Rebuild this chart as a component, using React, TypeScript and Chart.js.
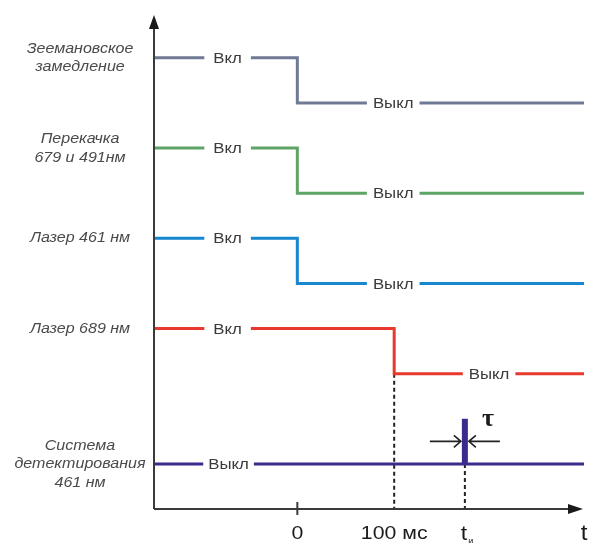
import React, { useEffect, useRef } from "react";
import { Chart, registerables } from "chart.js";

Chart.register(...registerables);

// ---- data ----
const channelLabels: string[][] = [
  ["Зеемановское", "замедление"],
  ["Перекачка", "679 и 491нм"],
  ["Лазер 461 нм"],
  ["Лазер 689 нм"],
  ["Система", "детектирования", "461 нм"],
];
const channelColors = ["#707a96", "#5ea466", "#1787cf", "#e8392e", "#3c2a8c"];
const onLevels = [10, 8, 6, 4, 2];
const offLevels = [9, 7, 5, 3, 1];
const switchTimes = [0, 0, 0, 100];
const startTime = -148;
const endTime = 296;
const onLabelTimes = [-72, -72, -72, -72];
const offLabelTimes = [99, 99, 99, 198];
const detectionLabelTime = -71;
const pulseTime = 173;
const onText = "Вкл";
const offText = "Выкл";
const xTickValues = [0, 100, pulseTime];
const xTickLabels = ["0", "100 мс", "t"];

export default function App() {
  const ref = useRef<HTMLCanvasElement | null>(null);

  useEffect(() => {
    const canvas = ref.current;
    if (!canvas) return;

    const datasets: any[] = [];
    for (let i = 0; i < 4; i++) {
      datasets.push({
        data: [
          { x: startTime, y: onLevels[i] },
          { x: switchTimes[i], y: onLevels[i] },
          { x: switchTimes[i], y: offLevels[i] },
          { x: endTime, y: offLevels[i] },
        ],
        borderColor: channelColors[i],
        borderWidth: 3,
        pointRadius: 0,
        borderJoinStyle: "miter",
      });
    }
    datasets.push({
      data: [
        { x: startTime, y: offLevels[4] },
        { x: endTime, y: offLevels[4] },
      ],
      borderColor: channelColors[4],
      borderWidth: 3,
      pointRadius: 0,
    });
    datasets.push({
      data: [
        { x: pulseTime, y: offLevels[4] },
        { x: pulseTime, y: onLevels[4] },
      ],
      borderColor: channelColors[4],
      borderWidth: 6,
      borderCapStyle: "butt",
      pointRadius: 0,
    });

    const stretchText = (
      ctx: CanvasRenderingContext2D,
      text: string,
      x: number,
      y: number,
      sx: number
    ) => {
      ctx.save();
      ctx.translate(x, y);
      ctx.scale(sx, 1);
      ctx.fillText(text, 0, 0);
      ctx.restore();
    };

    const axesPlugin = {
      id: "timingDecor",
      beforeDatasetsDraw(chart: any) {
        const ctx: CanvasRenderingContext2D = chart.ctx;
        const xs = chart.scales.x;
        const ys = chart.scales.y;
        const x0 = xs.getPixelForValue(startTime);
        const y0 = ys.getPixelForValue(0);
        ctx.save();
        // dashed guide lines
        ctx.strokeStyle = "#222";
        ctx.lineWidth = 2;
        ctx.setLineDash([4, 3]);
        const px100 = xs.getPixelForValue(switchTimes[3]);
        ctx.beginPath();
        ctx.moveTo(px100, ys.getPixelForValue(offLevels[3]));
        ctx.lineTo(px100, y0);
        const pxT = xs.getPixelForValue(pulseTime);
        ctx.moveTo(pxT, ys.getPixelForValue(offLevels[4]));
        ctx.lineTo(pxT, y0);
        ctx.stroke();
        ctx.setLineDash([]);
        ctx.restore();
      },
      afterDatasetsDraw(chart: any) {
        const ctx: CanvasRenderingContext2D = chart.ctx;
        const xs = chart.scales.x;
        const ys = chart.scales.y;
        const x0 = xs.getPixelForValue(startTime);
        const y0 = ys.getPixelForValue(0);
        const xEnd = xs.getPixelForValue(endTime);
        ctx.save();
        // axes
        ctx.strokeStyle = "#3a3a3a";
        ctx.fillStyle = "#1a1a1a";
        ctx.lineWidth = 2;
        ctx.beginPath();
        ctx.moveTo(x0, y0);
        ctx.lineTo(x0, chart.chartArea.top + 10);
        ctx.moveTo(x0, y0);
        ctx.lineTo(xEnd - 12, y0);
        ctx.stroke();
        // arrowheads
        ctx.beginPath();
        ctx.moveTo(x0, chart.chartArea.top);
        ctx.lineTo(x0 - 5, chart.chartArea.top + 14);
        ctx.lineTo(x0 + 5, chart.chartArea.top + 14);
        ctx.closePath();
        ctx.fill();
        ctx.beginPath();
        ctx.moveTo(xEnd - 1, y0);
        ctx.lineTo(xEnd - 16, y0 - 5);
        ctx.lineTo(xEnd - 16, y0 + 5);
        ctx.closePath();
        ctx.fill();
        // tick at 0
        const p0 = xs.getPixelForValue(0);
        ctx.beginPath();
        ctx.moveTo(p0, y0 - 7);
        ctx.lineTo(p0, y0 + 6);
        ctx.stroke();

        // state labels with white gaps
        ctx.font = "15px 'Liberation Sans', Arial, sans-serif";
        ctx.textAlign = "center";
        ctx.textBaseline = "middle";
        const sx = 1.12;
        const drawState = (text: string, t: number, level: number, pad: number) => {
          const cx = xs.getPixelForValue(t);
          const cy = ys.getPixelForValue(level);
          const w = ctx.measureText(text).width * sx;
          ctx.fillStyle = "#ffffff";
          ctx.fillRect(cx - w / 2 - pad, cy - 4, w + pad * 2, 8);
          ctx.fillStyle = "#3a3a3a";
          stretchText(ctx, text, cx, cy + 1, sx);
        };
        for (let i = 0; i < 4; i++) {
          drawState(onText, onLabelTimes[i], onLevels[i], 9);
          drawState(offText, offLabelTimes[i], offLevels[i], 6);
        }
        drawState(offText, detectionLabelTime, offLevels[4], 5);

        // channel labels
        ctx.font = "italic 15px 'Liberation Sans', Arial, sans-serif";
        ctx.fillStyle = "#4a4a4a";
        const lx = 80;
        const lh = 18.5;
        channelLabels.forEach((lines, i) => {
          const level = i < 4 ? onLevels[i] : offLevels[i];
          const cy = ys.getPixelForValue(level);
          const top = cy - ((lines.length - 1) * lh) / 2;
          lines.forEach((ln, j) => {
            stretchText(ctx, ln, lx, top + j * lh, 1.07);
          });
        });

        // x labels
        ctx.fillStyle = "#1a1a1a";
        ctx.font = "19px 'Liberation Sans', Arial, sans-serif";
        ctx.textBaseline = "alphabetic";
        for (let k = 0; k < 2; k++) {
          stretchText(ctx, xTickLabels[k], xs.getPixelForValue(xTickValues[k]), y0 + 30, 1.12);
        }
        ctx.font = "21px 'Liberation Sans', Arial, sans-serif";
        stretchText(ctx, xTickLabels[2], xs.getPixelForValue(xTickValues[2]) - 1, y0 + 31, 1.1);
        ctx.font = "9px 'Liberation Sans', Arial, sans-serif";
        ctx.fillText("и", xs.getPixelForValue(xTickValues[2]) + 6, y0 + 35);
        ctx.font = "22px 'Liberation Sans', Arial, sans-serif";
        stretchText(ctx, "t", xEnd, y0 + 31, 1.1);

        // tau arrows
        const pT = xs.getPixelForValue(pulseTime);
        const ay = ys.getPixelForValue(1.5);
        ctx.strokeStyle = "#222";
        ctx.lineWidth = 1.6;
        ctx.beginPath();
        ctx.moveTo(pT - 35, ay);
        ctx.lineTo(pT - 4, ay);
        ctx.moveTo(pT - 11, ay - 6);
        ctx.lineTo(pT - 4, ay);
        ctx.lineTo(pT - 11, ay + 6);
        ctx.moveTo(pT + 35, ay);
        ctx.lineTo(pT + 4, ay);
        ctx.moveTo(pT + 11, ay - 6);
        ctx.lineTo(pT + 4, ay);
        ctx.lineTo(pT + 11, ay + 6);
        ctx.stroke();
        ctx.fillStyle = "#1a1a1a";
        ctx.font = "bold 26px 'Liberation Serif', 'DejaVu Serif', serif";
        ctx.textBaseline = "alphabetic";
        ctx.fillText("τ", pT + 23, ys.getPixelForValue(2) + 7);
        ctx.restore();
      },
    };

    const chart = new Chart(canvas, {
      type: "line",
      data: { datasets },
      options: {
        animation: false,
        responsive: false,
        parsing: true,
        layout: { padding: { left: 154, right: 8, top: 15, bottom: 34 } },
        plugins: { legend: { display: false }, tooltip: { enabled: false } },
        scales: {
          x: { type: "linear", min: startTime, max: endTime, display: false },
          y: { type: "linear", min: 0, max: 10.95, display: false },
        },
      },
      plugins: [axesPlugin],
    });
    return () => chart.destroy();
  }, []);

  return (
    <div style={{ position: "fixed", left: 0, top: 0, width: 592, height: 543, background: "#fff" }}>
      <canvas ref={ref} width={592} height={543} style={{ width: 592, height: 543, display: "block" }} />
    </div>
  );
}
